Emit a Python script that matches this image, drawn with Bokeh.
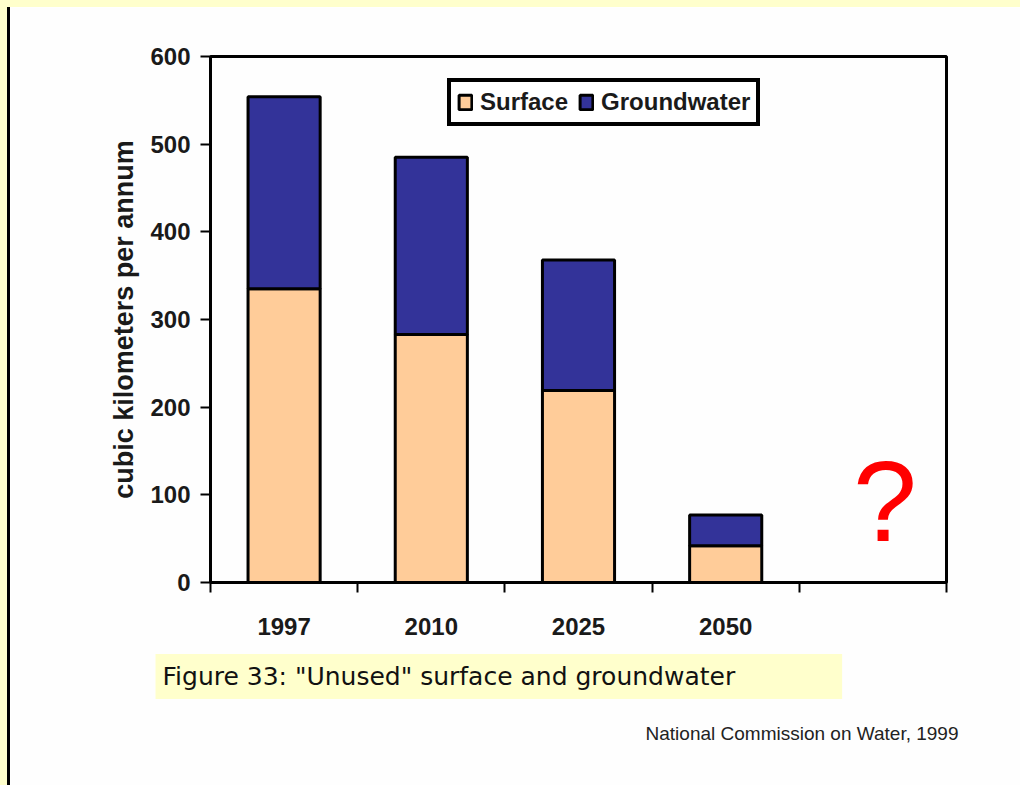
from bokeh.plotting import figure
from bokeh.models import (Range1d, FixedTicker, SingleIntervalTicker, Label,
                          Title, Div)
from bokeh.layouts import column, row
from bokeh.embed import file_html
from bokeh.resources import INLINE

years = ["1997", "2010", "2025", "2050"]
surface = [335, 283, 219, 42]
groundwater = [219, 202, 149, 35]
n_slots = 5  # last slot left empty (the "?")
y_max = 600
caption = "Figure 33:  \"Unused\" surface and groundwater"
source_note = "National Commission on Water, 1999"

xs = [i + 0.5 for i in range(len(years))]
data = dict(x=xs, Surface=surface, Groundwater=groundwater)

FONT = "Liberation Sans"
PAGE_YELLOW = "#FFFFCC"

p = figure(width=1010, height=778, output_backend="svg", toolbar_location=None,
           x_range=Range1d(0, n_slots), y_range=Range1d(0, y_max),
           min_border_left=200, min_border_right=74, min_border_top=49,
           min_border_bottom=203, background_fill_color="#FEFEFE",
           border_fill_color="#FEFEFE", margin=0)

p.xgrid.visible = False
p.ygrid.visible = False
p.outline_line_color = "black"
p.outline_line_width = 3

p.vbar_stack(["Surface", "Groundwater"], x="x", width=0.49, source=data,
             color=["#FFCC99", "#333399"], line_color="black", line_width=3,
             legend_label=["Surface", "Groundwater"])

# x axis: labels at slot centers, tick marks at slot boundaries
xa = p.xaxis[0]
xa.ticker = FixedTicker(ticks=xs, minor_ticks=list(range(n_slots + 1)))
xa.major_label_overrides = {x: y for x, y in zip(xs, years)}
xa.major_tick_line_color = None
xa.major_tick_out = 0
xa.minor_tick_in = 0
xa.minor_tick_out = 10
xa.minor_tick_line_width = 2
xa.minor_tick_line_color = "black"
xa.axis_line_width = 3
xa.major_label_standoff = 25
xa.major_label_text_font = FONT
xa.major_label_text_font_style = "bold"
xa.major_label_text_font_size = "24px"
xa.major_label_text_color = "#1a1a1a"

ya = p.yaxis[0]
ya.ticker = SingleIntervalTicker(interval=100, num_minor_ticks=0)
ya.major_tick_in = 0
ya.major_tick_out = 10
ya.major_tick_line_width = 2
ya.axis_line_width = 2
ya.minor_tick_line_color = None
ya.major_label_standoff = 10
ya.major_label_text_font = FONT
ya.major_label_text_font_style = "bold"
ya.major_label_text_font_size = "24px"
ya.major_label_text_color = "#1a1a1a"
ya.axis_label = "cubic kilometers per annum"
ya.axis_label_text_font = FONT
ya.axis_label_text_font_style = "bold"
ya.axis_label_text_font_size = "27px"
ya.axis_label_text_color = "#1a1a1a"
ya.axis_label_standoff = 8

leg = p.legend[0]
leg.orientation = "horizontal"
leg.location = (237, 456)
leg.border_line_color = "black"
leg.border_line_width = 4
leg.border_line_alpha = 1
leg.background_fill_color = "white"
leg.background_fill_alpha = 1
leg.label_text_font = FONT
leg.label_text_font_style = "bold"
leg.label_text_font_size = "24px"
leg.label_text_color = "#1a1a1a"
leg.glyph_width = 16
leg.glyph_height = 18
leg.label_standoff = 7
leg.spacing = 10
leg.padding = 6
leg.margin = 0

# the question mark in the empty slot
p.add_layout(Label(x=n_slots - 0.5, y=93, x_offset=12, text="?", text_align="center",
                   text_baseline="alphabetic", text_font=FONT,
                   text_font_size="115px", text_color="#FF0000"))

# caption in a pale yellow box, and source note
p.add_layout(Title(text=caption, align="left", offset=-55, standoff=33,
                   vertical_align="top",
                   text_font="DejaVu Sans", text_font_style="normal",
                   text_font_size="25px", text_color="#111111",
                   background_fill_color=PAGE_YELLOW,
                   padding=dict(left=7, right=99, top=8, bottom=8)), "below")
p.add_layout(Title(text=source_note, align="right", offset=-12, standoff=6,
                   text_font=FONT, text_font_style="normal",
                   text_font_size="19px", text_color="#222222"), "below")

top_strip = Div(text="", width=1020, height=7, margin=0,
                styles={"background-color": PAGE_YELLOW})
left_strip = Div(text="", width=7, height=778, margin=0,
                 styles={"background-color": PAGE_YELLOW})
left_rule = Div(text="", width=3, height=778, margin=0,
                styles={"background-color": "black"})

page = column(top_strip, row(left_strip, left_rule, p, margin=0), margin=0)

open("out.html", "w").write(file_html(page, INLINE))
